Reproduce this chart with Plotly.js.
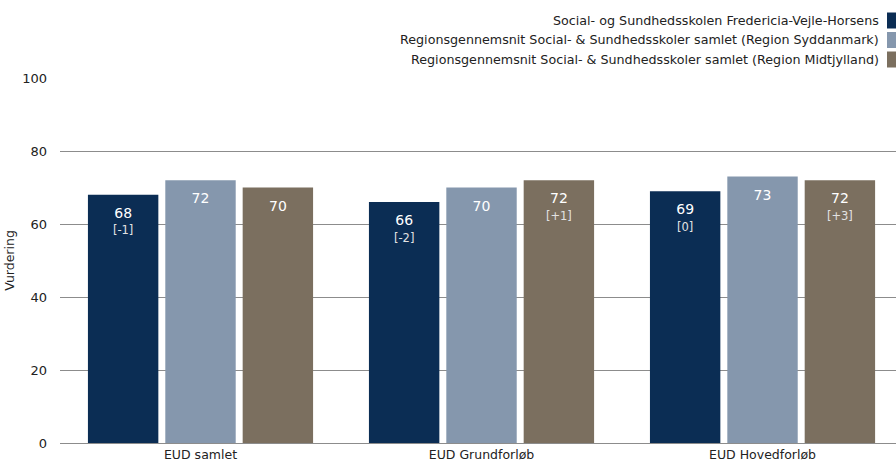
<!DOCTYPE html>
<html>
<head>
<meta charset="utf-8">
<script src="https://cdn.plot.ly/plotly-3.0.1.min.js"></script>
<style>html,body{margin:0;padding:0;background:#fff;}#chart{width:896px;height:461px;}</style>
</head>
<body>
<div id="chart"></div>
<script>
const categories = ["EUD samlet", "EUD Grundforløb", "EUD Hovedforløb"];
const seriesNames = [
  "Social- og Sundhedsskolen Fredericia-Vejle-Horsens",
  "Regionsgennemsnit Social- & Sundhedsskoler samlet (Region Syddanmark)",
  "Regionsgennemsnit Social- & Sundhedsskoler samlet (Region Midtjylland)"
];
const schoolValues = [68, 66, 69];
const syddanmarkValues = [72, 70, 73];
const midtjyllandValues = [70, 72, 72];
const schoolChange = ["[-1]", "[-2]", "[0]"];
const syddanmarkChange = ["", "", ""];
const midtjyllandChange = ["", "[+1]", "[+3]"];
const colors = ["#0b2d54", "#8597ad", "#7b6f5f"];
const yTicks = [0, 20, 40, 60, 80, 100];

const FONT = "DejaVu Sans, Verdana, sans-serif";

function labels(vals, changes) {
  return vals.map((v, i) => {
    let s = "<span style='font-size:13px'>&nbsp;</span><br><span style='font-size:14px'>" + v + "</span>";
    if (changes[i]) s += "<br><br><span style='font-size:11.5px;color:#e2e2e2'>" + changes[i] + "</span>";
    return s;
  });
}

const allVals = [schoolValues, syddanmarkValues, midtjyllandValues];
const allChanges = [schoolChange, syddanmarkChange, midtjyllandChange];

const traces = allVals.map((vals, k) => ({
  type: "bar",
  name: seriesNames[k],
  x: categories,
  y: vals,
  marker: {color: colors[k]},
  text: labels(vals, allChanges[k]),
  textposition: "inside",
  insidetextanchor: "end",
  textangle: 0,
  constraintext: "none",
  textfont: {color: "#ffffff", size: 6.3, family: FONT},
  hoverinfo: "skip",
  showlegend: false
}));

const mTop = 78, mBot = 18, mL = 60, mR = 0, H = 461, W = 896;
const ph = H - mTop - mBot, pw = W - mL - mR;
const annotations = [];
const shapes = [];
seriesNames.forEach((n, k) => {
  const yc = 20.5 + k * 19.5;
  annotations.push({
    xref: "paper", yref: "paper",
    x: (881 - mL) / pw, y: (H - mBot - yc) / ph,
    xanchor: "right", yanchor: "middle",
    text: n, showarrow: false,
    font: {family: FONT, size: 12.7, color: "#222"}
  });
  shapes.push({
    type: "rect", xref: "paper", yref: "paper",
    x0: (887 - mL) / pw, x1: (897 - mL) / pw,
    y0: (H - mBot - (yc + 8)) / ph, y1: (H - mBot - (yc - 8)) / ph,
    fillcolor: colors[k], line: {width: 0}
  });
});

const layout = {
  width: W, height: H,
  margin: {l: mL, r: mR, t: mTop, b: mBot, pad: 0},
  paper_bgcolor: "#ffffff",
  plot_bgcolor: "#ffffff",
  font: {family: FONT, size: 12.5, color: "#222"},
  barmode: "group",
  bargap: 0.174,
  bargroupgap: 0.09,
  showlegend: false,
  xaxis: {
    type: "category",
    range: [-0.5, 2.475],
    showgrid: false,
    zeroline: false,
    showline: true,
    linecolor: "#8c8c8c",
    linewidth: 1,
    ticks: "",
    tickfont: {family: FONT, size: 12.5, color: "#222"},
    fixedrange: true
  },
  yaxis: {
    range: [0, 100],
    tickvals: yTicks,
    ticktext: yTicks.map(String),
    showgrid: true,
    gridcolor: "#8c8c8c",
    gridwidth: 1,
    zeroline: false,
    showline: false,
    ticks: "",
    ticklabelstandoff: 12,
    tickfont: {family: FONT, size: 13, color: "#222"},
    title: {text: "Vurdering", font: {family: FONT, size: 12.5, color: "#222"}, standoff: 4},
    fixedrange: true
  },
  annotations: annotations,
  shapes: shapes
};

Plotly.newPlot("chart", traces, layout, {displayModeBar: false, staticPlot: true});
</script>
</body>
</html>
